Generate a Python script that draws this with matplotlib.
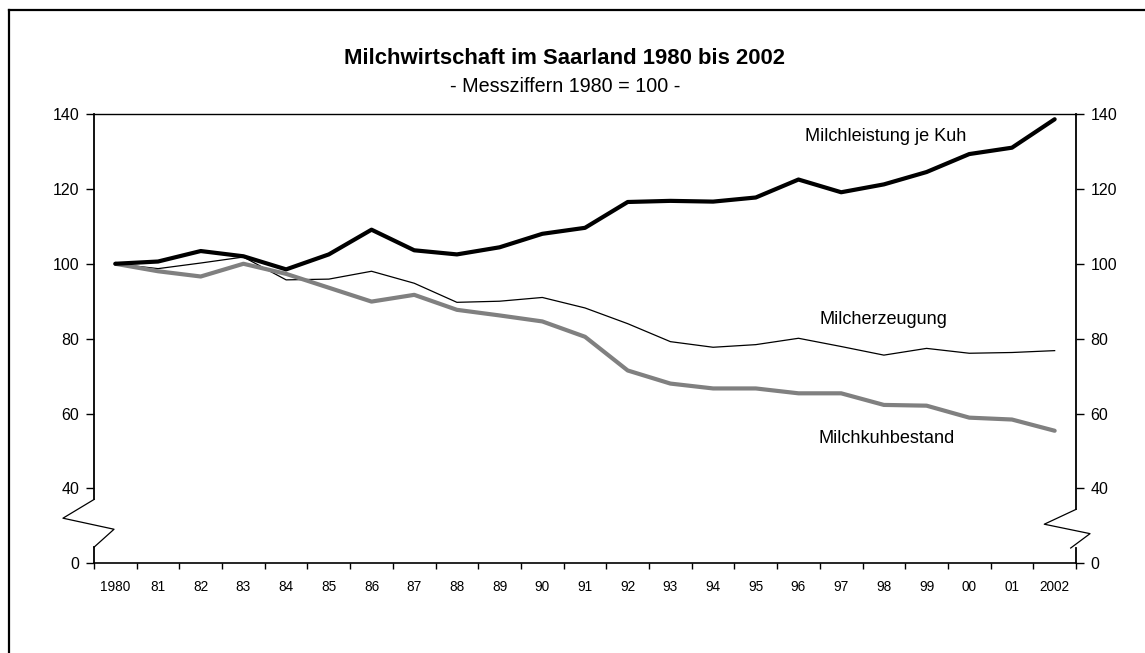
import matplotlib
matplotlib.use("Agg")
import matplotlib.pyplot as plt
from matplotlib.lines import Line2D
from matplotlib.ticker import FixedLocator

plt.rcParams['font.family'] = ['Liberation Sans', 'DejaVu Sans']

years = ["1980", "81", "82", "83", "84", "85", "86", "87", "88", "89", "90", "91",
         "92", "93", "94", "95", "96", "97", "98", "99", "00", "01", "2002"]
milchleistung = [100, 100.6, 103.4, 102.0, 98.5, 102.5, 109.1, 103.6, 102.5, 104.4,
                 108.0, 109.6, 116.5, 116.8, 116.6, 117.7, 122.5, 119.1, 121.2, 124.5,
                 129.3, 131.0, 138.6]
milcherzeugung = [100, 98.7, 100.2, 101.8, 95.7, 95.9, 98.0, 94.8, 89.7, 90.0,
                  91.0, 88.2, 84.0, 79.2, 77.7, 78.4, 80.1, 77.9, 75.6, 77.4,
                  76.1, 76.3, 76.8]
milchkuhbestand = [100, 98.0, 96.6, 100.0, 97.3, 93.6, 89.9, 91.7, 87.7, 86.2,
                   84.6, 80.5, 71.5, 68.0, 66.7, 66.7, 65.4, 65.4, 62.3, 62.1,
                   58.9, 58.4, 55.4]
ytick_vals = [20, 40, 60, 80, 100, 120, 140]
ytick_labels = ["0", "40", "60", "80", "100", "120", "140"]

W, H = 1145, 653
fig = plt.figure(figsize=(W / 100, H / 100), dpi=100)
ax = fig.add_axes([94 / W, 1 - 563.3 / H, (1076 - 94) / W, (563.3 - 114) / H])

x = list(range(len(years)))
ax.plot(x, milcherzeugung, color="black", lw=0.9, solid_joinstyle="miter", zorder=3)
ax.plot(x, milchkuhbestand, color="#808080", lw=3.0, solid_capstyle="round", zorder=4)
ax.plot(x, milchleistung, color="black", lw=3.0, solid_capstyle="round", zorder=5)

ax.set_xlim(-0.5, len(years) - 0.5)
ax.set_ylim(20, 140)

ax.set_xticks(x)
ax.set_xticklabels(years, fontsize=9.8)
ax.xaxis.set_minor_locator(FixedLocator([i - 0.5 for i in range(len(years) + 1)]))
ax.tick_params(axis="x", which="major", length=0, pad=12)
ax.tick_params(axis="x", which="minor", length=4.5, width=1, direction="out")

ax.set_yticks(ytick_vals)
ax.set_yticklabels(ytick_labels, fontsize=11.5)
ax.tick_params(axis="y", which="major", length=6, width=1, direction="out", pad=4.5,
               left=True, right=True, labelleft=True, labelright=True)

for s in ["left", "right"]:
    ax.spines[s].set_visible(False)
ax.spines["top"].set_linewidth(1)
ax.spines["bottom"].set_linewidth(1.2)

# broken left axis
tr = ax.transAxes
lw_sp = 1.3
ax.add_line(Line2D([0, 0], [1, 0.142], transform=tr, color="black", lw=lw_sp, clip_on=False))
ax.add_line(Line2D([0, -0.0316, 0.0204, 0, 0], [0.142, 0.1004, 0.0758, 0.0358, 0.0358],
                   transform=tr, color="black", lw=0.9, clip_on=False))
ax.add_line(Line2D([0, 0], [0.0358, 0], transform=tr, color="black", lw=lw_sp, clip_on=False))
# broken right axis
ax.add_line(Line2D([1, 1], [1, 0.12], transform=tr, color="black", lw=lw_sp, clip_on=False))
ax.add_line(Line2D([1, 1 - 0.0323, 1 + 0.0143, 1 - 0.0054], [0.12, 0.087, 0.066, 0.034],
                   transform=tr, color="black", lw=0.9, clip_on=False))
ax.add_line(Line2D([1, 1], [0.034, 0], transform=tr, color="black", lw=lw_sp, clip_on=False))

# series labels
ax.text(18.05, 132.8, "Milchleistung je Kuh", fontsize=13.1, ha="center", va="baseline")
ax.text(17.98, 83.9, "Milcherzeugung", fontsize=13.1, ha="center", va="baseline")
ax.text(18.07, 52.2, "Milchkuhbestand", fontsize=13.1, ha="center", va="baseline")

# titles
fig.text(564 / W, 1 - 64.3 / H, "Milchwirtschaft im Saarland 1980 bis 2002",
         fontsize=15.9, fontweight="bold", ha="center", va="baseline")
fig.text(565 / W, 1 - 91.7 / H, "- Messziffern 1980 = 100 -",
         fontsize=14.2, ha="center", va="baseline")

# outer frame (left and top visible)
fig.add_artist(Line2D([8.5 / W, 8.5 / W], [-0.05, 1 - 10 / H], transform=fig.transFigure,
                      color="black", lw=1.6))
fig.add_artist(Line2D([8.5 / W, 1.05], [1 - 10 / H, 1 - 10 / H], transform=fig.transFigure,
                      color="black", lw=1.6))

fig.savefig("out.png", dpi=100, facecolor="white")
